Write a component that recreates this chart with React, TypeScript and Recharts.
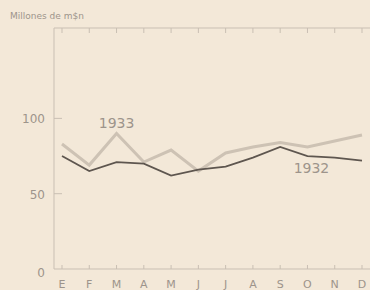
import React from 'react';
import { LineChart, Line, XAxis, YAxis, ReferenceDot } from 'recharts';

const months = ['E', 'F', 'M', 'A', 'M', 'J', 'J', 'A', 'S', 'O', 'N', 'D'];
const values1932 = [75, 65, 71, 70, 62, 66, 68, 74, 81, 75, 74, 72];
const values1933 = [83, 69, 90, 71, 79, 65, 77, 81, 84, 81, 85, 89];
const yTicks = [0, 50, 100];

const data = months.map((m, i) => ({ key: `${m}${i}`, m, a: values1932[i], b: values1933[i] }));

const BG = '#f3e8d8';
const AXIS = '#c9bfb3';
const TEXT = '#9d948b';
const FONT = '"DejaVu Sans", sans-serif';

const LeftTick = (props: any) => {
  const { x, y, payload } = props;
  return (
    <g>
      <text x={x - 9} y={y + (payload.value === 0 ? 4 : 1)} textAnchor="end" dominantBaseline="central"
        fontSize={12} fill={TEXT} fontFamily={FONT}>{payload.value}</text>
      {payload.value !== 0 && <line x1={x} x2={x + 8} y1={y} y2={y} stroke={AXIS} strokeWidth={1} />}
    </g>
  );
};

const RightTick = (props: any) => {
  const { x, y, payload } = props;
  if (payload.value === 0) return <g />;
  return <line x1={x - 6} x2={x} y1={y} y2={y} stroke={AXIS} strokeWidth={1} />;
};

const BottomTick = (props: any) => {
  const { x, y, payload, index } = props;
  return (
    <g>
      <line x1={x} x2={x} y1={y} y2={y - 4} stroke={AXIS} strokeWidth={1} />
      <text x={x} y={y + 19} textAnchor="middle" fontSize={11} fill={TEXT} fontFamily={FONT}>{months[index] ?? payload.value}</text>
    </g>
  );
};

const TopTick = (props: any) => {
  const { x, y } = props;
  return <line x1={x} x2={x} y1={y} y2={y + 5} stroke={AXIS} strokeWidth={1} />;
};

export default function App() {
  return (
    <div style={{ position: 'fixed', left: 0, top: 0, width: 370, height: 290, background: BG }}>
      <div style={{ position: 'absolute', left: 10, top: 11, fontSize: 9, color: TEXT, fontFamily: FONT, whiteSpace: 'nowrap' }}>
        Millones de m$n
      </div>
      <LineChart width={370} height={290} data={data} margin={{ top: 0, right: 0, left: 0, bottom: 0 }}>
        <XAxis dataKey="key" xAxisId={0} orientation="bottom" height={21} padding={{ left: 8, right: 8 }}
          axisLine={{ stroke: AXIS }} tickLine={false} tickSize={0} tickMargin={0} tick={<BottomTick />} interval={0} />
        <XAxis dataKey="key" xAxisId="top" orientation="top" height={28} padding={{ left: 8, right: 8 }}
          axisLine={{ stroke: AXIS }} tickLine={false} tickSize={0} tickMargin={0} tick={<TopTick />} interval={0} />
        <YAxis yAxisId={0} width={54} domain={[0, 160]} ticks={yTicks} axisLine={{ stroke: AXIS }}
          tickLine={false} tickSize={0} tickMargin={0} tick={<LeftTick />} allowDataOverflow />
        <YAxis yAxisId="r" orientation="right" width={0} domain={[0, 160]} ticks={yTicks} axisLine={false}
          tickLine={false} tickSize={0} tickMargin={0} tick={<RightTick />} />
        <Line type="linear" dataKey="b" stroke="#cdc2b4" strokeWidth={3} dot={false} isAnimationActive={false} />
        <Line type="linear" dataKey="a" stroke="#5e564f" strokeWidth={1.8} dot={false} isAnimationActive={false} />
        <ReferenceDot x={data[2].key} y={97} r={0} fill="none" stroke="none"
          label={{ value: '1933', position: 'center', fontSize: 14, fill: TEXT, fontFamily: FONT }} />
        <ReferenceDot x={data[9].key} y={67} r={0} fill="none" stroke="none"
          label={{ value: '1932', position: 'center', dx: 4, fontSize: 14, fill: TEXT, fontFamily: FONT }} />
      </LineChart>
    </div>
  );
}
